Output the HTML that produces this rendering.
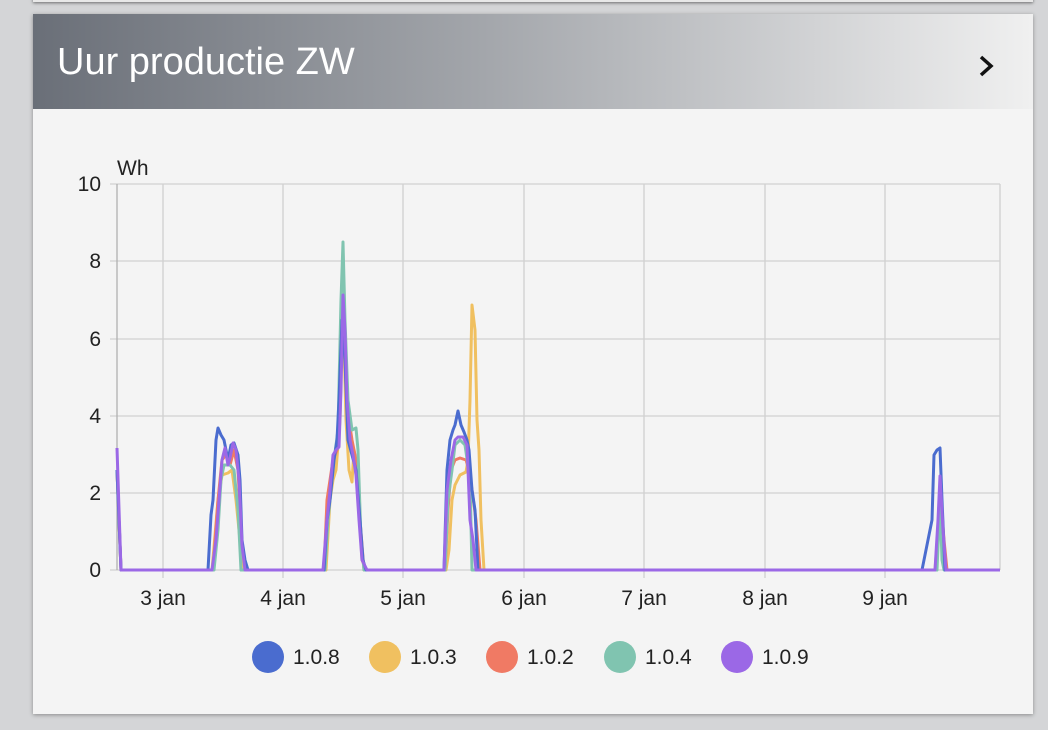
<!DOCTYPE html>
<html><head><meta charset="utf-8"><style>
body{margin:0;width:1048px;height:730px;background:#d4d5d7;font-family:"Liberation Sans",sans-serif;overflow:hidden;position:relative}
.top{position:absolute;left:33px;top:-10px;width:1000px;height:12px;background:#e8e8e8;box-shadow:0 1px 3px rgba(0,0,0,.5)}
.card{position:absolute;left:33px;top:14px;width:1000px;height:700px;background:#f4f4f4;box-shadow:0 1px 4px rgba(0,0,0,.35)}
.hdr{position:absolute;left:0;top:0;width:1000px;height:95px;background:linear-gradient(90deg,#6a6f78 0%,#a3a6ab 45%,#f0f0f0 100%)}
.hdr h1{margin:0;position:absolute;left:24px;top:27px;font-weight:normal;font-size:38px;color:#fff}
</style></head><body>
<div class="top"></div>
<div class="card"><div class="hdr"><h1>Uur productie ZW</h1>
<svg style="position:absolute;left:944px;top:40px" width="20" height="26"><path d="M4 3 L14 12 L4 21" stroke="#111" stroke-width="3.5" fill="none"/></svg></div></div>
<svg style="position:absolute;left:0;top:0" width="1048" height="730" font-family="Liberation Sans, sans-serif">
<g stroke="#d0d0d0" stroke-width="1.3">
<line x1="110" y1="184" x2="1000" y2="184"/><line x1="110" y1="261" x2="1000" y2="261"/><line x1="110" y1="339" x2="1000" y2="339"/><line x1="110" y1="416" x2="1000" y2="416"/><line x1="110" y1="493" x2="1000" y2="493"/><line x1="110" y1="570" x2="1000" y2="570"/>
<line x1="163" y1="184" x2="163" y2="578"/><line x1="283" y1="184" x2="283" y2="578"/><line x1="403" y1="184" x2="403" y2="578"/><line x1="524" y1="184" x2="524" y2="578"/><line x1="644" y1="184" x2="644" y2="578"/><line x1="765" y1="184" x2="765" y2="578"/><line x1="885" y1="184" x2="885" y2="578"/><line x1="1000" y1="184" x2="1000" y2="570"/>
</g>
<line x1="117" y1="184" x2="117" y2="570" stroke="#b0b0b0" stroke-width="1.3"/>
<g font-size="21" fill="#222" text-anchor="end">
<text x="101" y="191">10</text><text x="101" y="268">8</text><text x="101" y="346">6</text><text x="101" y="423">4</text><text x="101" y="500">2</text><text x="101" y="577">0</text></g>
<text x="117" y="175" font-size="21" fill="#222">Wh</text>
<g font-size="21" fill="#222" text-anchor="middle">
<text x="163" y="605">3 jan</text><text x="283" y="605">4 jan</text><text x="403" y="605">5 jan</text><text x="524" y="605">6 jan</text><text x="644" y="605">7 jan</text><text x="765" y="605">8 jan</text><text x="885" y="605">9 jan</text></g>
<g fill="none" stroke-width="3" stroke-linejoin="round">
<polyline stroke="#f0c060" points="117,470 121,570 212,570 218,500 222,475 228,473 232,470 236,500 240,540 244,570 326,570 330,500 333,480 336,470 340,420 343,300 346,420 349,470 352,482 354,450 357,470 362,560 366,570 446,570 449,550 452,500 455,485 460,475 466,472 468,460 470,400 472,305 475,330 477,420 479,450 481,520 484,570 935,570 938,530 940,500 943,550 946,570 1000,570"/>
<polyline stroke="#f07a64" points="117,470 121,570 213,570 218,500 222,460 226,455 230,465 234,450 238,470 242,545 246,570 324,570 327,500 330,480 333,460 337,450 340,400 343,310 346,385 349,420 352,440 356,460 360,520 364,570 445,570 448,510 451,470 455,460 460,458 466,460 469,470 472,490 476,520 480,570 936,570 939,510 941,500 944,540 947,570 1000,570"/>
<polyline stroke="#80c4b0" points="117,470 121,570 214,570 218,530 221,480 224,465 230,465 234,470 238,510 241,570 325,570 328,520 331,490 334,460 338,430 341,300 343,242 345,320 348,400 352,430 356,428 358,450 361,540 364,570 445,570 448,500 452,470 455,445 460,440 465,445 470,480 472,570 937,570 940,500 942,560 944,570 1000,570"/>
<polyline stroke="#4a6ccf" points="117,470 121,570 208,570 211,515 213,500 216,440 218,428 221,435 224,440 228,460 231,445 234,443 238,455 240,480 242,540 245,560 248,570 324,570 327,520 330,500 334,460 337,440 339,400 342,320 345,360 348,440 352,455 356,470 360,520 363,560 366,570 444,570 447,470 450,440 453,430 455,425 458,411 461,425 464,432 467,440 469,450 472,490 475,510 478,570 922,570 927,545 932,520 934,455 937,450 940,448 942,500 945,570 1000,570"/>
<polyline stroke="#9b68e6" points="117,448 121,570 212,570 216,540 219,500 222,460 225,448 228,465 230,458 233,443 236,450 239,480 242,545 245,570 323,570 327,520 330,490 333,455 336,450 339,447 341,390 343,295 345,330 347,400 350,440 353,455 356,475 359,520 362,560 367,570 444,570 447,490 451,460 455,440 458,437 463,437 467,445 470,520 473,540 476,570 935,570 938,520 940,476 943,530 946,570 1000,570"/>
</g>
<g font-size="21" fill="#222">
<ellipse cx="268" cy="657" rx="16" ry="16" fill="#4a6ccf"/><text x="293" y="664">1.0.8</text>
<ellipse cx="385" cy="657" rx="16" ry="16" fill="#f0c060"/><text x="410" y="664">1.0.3</text>
<ellipse cx="502" cy="657" rx="16" ry="16" fill="#f07a64"/><text x="527" y="664">1.0.2</text>
<ellipse cx="620" cy="657" rx="16" ry="16" fill="#80c4b0"/><text x="645" y="664">1.0.4</text>
<ellipse cx="737" cy="657" rx="16" ry="16" fill="#9b68e6"/><text x="762" y="664">1.0.9</text>
</g>
</svg>
</body></html>
